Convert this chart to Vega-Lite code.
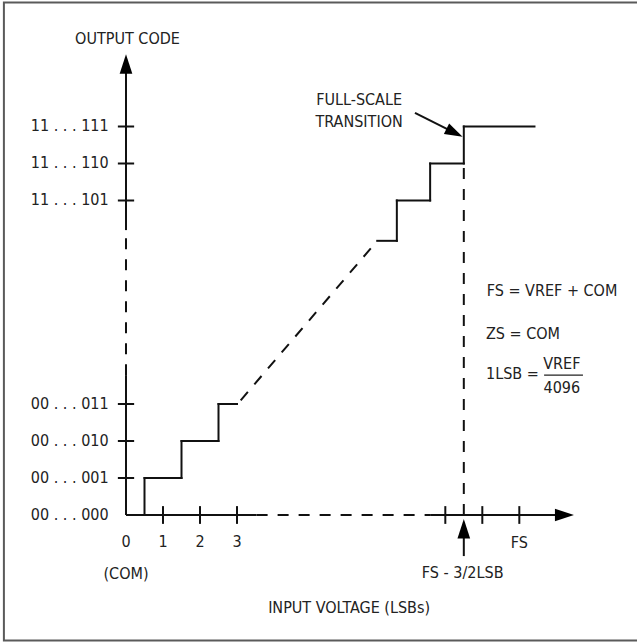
{
  "$schema": "https://vega.github.io/schema/vega-lite/v6.json",
  "width": 637,
  "height": 642,
  "padding": 0,
  "autosize": {"type": "none"},
  "background": "white",
  "config": {"view": {"stroke": null}},
  "datasets": {
    "frame": [{"x": -3.30, "y": 13.85, "x2": 14.5, "y2": -3.39}],
    "segs": [
      {"kind": "axis", "x": 0, "y": 0, "x2": 0, "y2": 3.78},
      {"kind": "axis", "x": 0, "y": 7.7, "x2": 0, "y2": 12.0},
      {"kind": "axis", "x": 0, "y": 0, "x2": 3.53, "y2": 0},
      {"kind": "axis", "x": 8.22, "y": 0, "x2": 11.7, "y2": 0},
      {"kind": "axis", "x": 9.13, "y": -0.6, "x2": 9.13, "y2": -1.11},
      {"kind": "axis", "x": 7.81, "y": 10.87, "x2": 8.9, "y2": 10.32},
      {"kind": "tick", "x": -0.22, "y": 1, "x2": 0.22, "y2": 1},
      {"kind": "tick", "x": -0.22, "y": 2, "x2": 0.22, "y2": 2},
      {"kind": "tick", "x": -0.22, "y": 3, "x2": 0.22, "y2": 3},
      {"kind": "tick", "x": -0.22, "y": 8.5, "x2": 0.22, "y2": 8.5},
      {"kind": "tick", "x": -0.22, "y": 9.5, "x2": 0.22, "y2": 9.5},
      {"kind": "tick", "x": -0.22, "y": 10.5, "x2": 0.22, "y2": 10.5},
      {"kind": "tick", "x": 1, "y": -0.24, "x2": 1, "y2": 0.24},
      {"kind": "tick", "x": 2, "y": -0.24, "x2": 2, "y2": 0.24},
      {"kind": "tick", "x": 3, "y": -0.24, "x2": 3, "y2": 0.24},
      {"kind": "tick", "x": 8.63, "y": -0.24, "x2": 8.63, "y2": 0.24},
      {"kind": "tick", "x": 9.63, "y": -0.24, "x2": 9.63, "y2": 0.24},
      {"kind": "tick", "x": 10.63, "y": -0.24, "x2": 10.63, "y2": 0.24},
      {"kind": "step", "x": 0.5, "y": 0, "x2": 0.5, "y2": 1},
      {"kind": "step", "x": 0.5, "y": 1, "x2": 1.5, "y2": 1},
      {"kind": "step", "x": 1.5, "y": 1, "x2": 1.5, "y2": 2},
      {"kind": "step", "x": 1.5, "y": 2, "x2": 2.5, "y2": 2},
      {"kind": "step", "x": 2.5, "y": 2, "x2": 2.5, "y2": 3},
      {"kind": "step", "x": 2.5, "y": 3, "x2": 3.0, "y2": 3},
      {"kind": "step", "x": 6.79, "y": 7.41, "x2": 7.32, "y2": 7.41},
      {"kind": "step", "x": 7.32, "y": 7.41, "x2": 7.32, "y2": 8.5},
      {"kind": "step", "x": 7.32, "y": 8.5, "x2": 8.22, "y2": 8.5},
      {"kind": "step", "x": 8.22, "y": 8.5, "x2": 8.22, "y2": 9.5},
      {"kind": "step", "x": 8.22, "y": 9.5, "x2": 9.13, "y2": 9.5},
      {"kind": "step", "x": 9.13, "y": 9.5, "x2": 9.13, "y2": 10.5},
      {"kind": "step", "x": 9.13, "y": 10.5, "x2": 11.04, "y2": 10.5},
      {"kind": "dash", "x": 0, "y": 3.78, "x2": 0, "y2": 7.7},
      {"kind": "dash", "x": 3.53, "y": 0, "x2": 8.22, "y2": 0},
      {"kind": "dash", "x": 9.13, "y": 0, "x2": 9.13, "y2": 9.5},
      {"kind": "dash", "x": 3.1, "y": 3.1, "x2": 6.79, "y2": 7.41},
      {"kind": "thin", "x": 11.30, "y": 3.78, "x2": 12.35, "y2": 3.78}
    ],
    "arrows": [
      {"dir": "up", "x": 0, "y": 12.19},
      {"dir": "up", "x": 9.13, "y": -0.37},
      {"dir": "right", "x": 11.85, "y": 0},
      {"dir": "diag", "x": 8.88, "y": 10.33}
    ],
    "labels": [
      {"pos": "right", "x": -0.47, "y": 0, "text": "00 . . . 000"},
      {"pos": "right", "x": -0.47, "y": 1, "text": "00 . . . 001"},
      {"pos": "right", "x": -0.47, "y": 2, "text": "00 . . . 010"},
      {"pos": "right", "x": -0.47, "y": 3, "text": "00 . . . 011"},
      {"pos": "right", "x": -0.47, "y": 8.5, "text": "11 . . . 101"},
      {"pos": "right", "x": -0.47, "y": 9.5, "text": "11 . . . 110"},
      {"pos": "right", "x": -0.47, "y": 10.5, "text": "11 . . . 111"},
      {"pos": "center", "x": 0.04, "y": 12.87, "text": "OUTPUT CODE"},
      {"pos": "center", "x": 0, "y": -0.72, "text": "0"},
      {"pos": "center", "x": 1, "y": -0.72, "text": "1"},
      {"pos": "center", "x": 2, "y": -0.72, "text": "2"},
      {"pos": "center", "x": 3, "y": -0.72, "text": "3"},
      {"pos": "center", "x": 0, "y": -1.59, "text": "(COM)"},
      {"pos": "center", "x": 10.63, "y": -0.75, "text": "FS"},
      {"pos": "center", "x": 9.1, "y": -1.56, "text": "FS - 3/2LSB"},
      {"pos": "center", "x": 6.03, "y": -2.51, "text": "INPUT VOLTAGE (LSBs)"},
      {"pos": "center", "x": 6.3, "y": 11.22, "text": "FULL-SCALE"},
      {"pos": "center", "x": 6.3, "y": 10.63, "text": "TRANSITION"},
      {"pos": "center", "x": 11.78, "y": 4.08, "text": "VREF"},
      {"pos": "center", "x": 11.78, "y": 3.43, "text": "4096"},
      {"pos": "left", "x": 9.75, "y": 6.06, "text": "FS = VREF + COM"},
      {"pos": "left", "x": 9.73, "y": 4.89, "text": "ZS = COM"},
      {"pos": "left", "x": 9.73, "y": 3.81, "text": "1LSB ="}
    ]
  },
  "encoding": {
    "x": {"field": "x", "type": "quantitative", "axis": null, "scale": {"domain": [-3.4054, 13.8108], "nice": false, "zero": false}},
    "y": {"field": "y", "type": "quantitative", "axis": null, "scale": {"domain": [-3.4324, 13.9189], "nice": false, "zero": false}}
  },
  "layer": [
    {
      "data": {"name": "frame"},
      "mark": {"type": "rect", "fill": null, "fillOpacity": 0, "stroke": "#5a5a5a", "strokeWidth": 2, "clip": true},
      "encoding": {"x2": {"field": "x2"}, "y2": {"field": "y2"}}
    },
    {
      "data": {"name": "segs"},
      "transform": [{"filter": "datum.kind === 'axis' || datum.kind === 'tick'"}],
      "mark": {"type": "rule", "color": "#111", "strokeWidth": 2},
      "encoding": {"x2": {"field": "x2"}, "y2": {"field": "y2"}}
    },
    {
      "data": {"name": "segs"},
      "transform": [{"filter": "datum.kind === 'step'"}],
      "mark": {"type": "rule", "color": "#111", "strokeWidth": 2, "strokeCap": "square"},
      "encoding": {"x2": {"field": "x2"}, "y2": {"field": "y2"}}
    },
    {
      "data": {"name": "segs"},
      "transform": [{"filter": "datum.kind === 'dash'"}],
      "mark": {"type": "rule", "color": "#111", "strokeWidth": 2, "strokeDash": [11, 10]},
      "encoding": {"x2": {"field": "x2"}, "y2": {"field": "y2"}}
    },
    {
      "data": {"name": "segs"},
      "transform": [{"filter": "datum.kind === 'thin'"}],
      "mark": {"type": "rule", "color": "#222", "strokeWidth": 1.2},
      "encoding": {"x2": {"field": "x2"}, "y2": {"field": "y2"}}
    },
    {
      "data": {"name": "arrows"},
      "transform": [{"filter": "datum.dir === 'up'"}],
      "mark": {"type": "point", "shape": "M0,-1L0.65,1L-0.65,1Z", "filled": true, "color": "#000", "size": 380, "opacity": 1}
    },
    {
      "data": {"name": "arrows"},
      "transform": [{"filter": "datum.dir === 'right'"}],
      "mark": {"type": "point", "shape": "M1,0L-1,-0.65L-1,0.65Z", "filled": true, "color": "#000", "size": 361, "opacity": 1}
    },
    {
      "data": {"name": "arrows"},
      "transform": [{"filter": "datum.dir === 'diag'"}],
      "mark": {"type": "point", "shape": "M1,0L-1,-0.65L-1,0.65Z", "filled": true, "color": "#000", "size": 324, "angle": 26.7, "opacity": 1}
    },
    {
      "data": {"name": "labels"},
      "transform": [{"filter": "datum.pos === 'right'"}],
      "mark": {"type": "text", "align": "right", "baseline": "middle", "font": "DejaVu Sans Condensed, Roboto, sans-serif", "fontSize": 16, "color": "#222"},
      "encoding": {"text": {"field": "text"}}
    },
    {
      "data": {"name": "labels"},
      "transform": [{"filter": "datum.pos === 'center'"}],
      "mark": {"type": "text", "align": "center", "baseline": "middle", "font": "DejaVu Sans Condensed, Roboto, sans-serif", "fontSize": 16, "color": "#222"},
      "encoding": {"text": {"field": "text"}}
    },
    {
      "data": {"name": "labels"},
      "transform": [{"filter": "datum.pos === 'left'"}],
      "mark": {"type": "text", "align": "left", "baseline": "middle", "font": "DejaVu Sans Condensed, Roboto, sans-serif", "fontSize": 16, "color": "#222"},
      "encoding": {"text": {"field": "text"}}
    }
  ]
}
